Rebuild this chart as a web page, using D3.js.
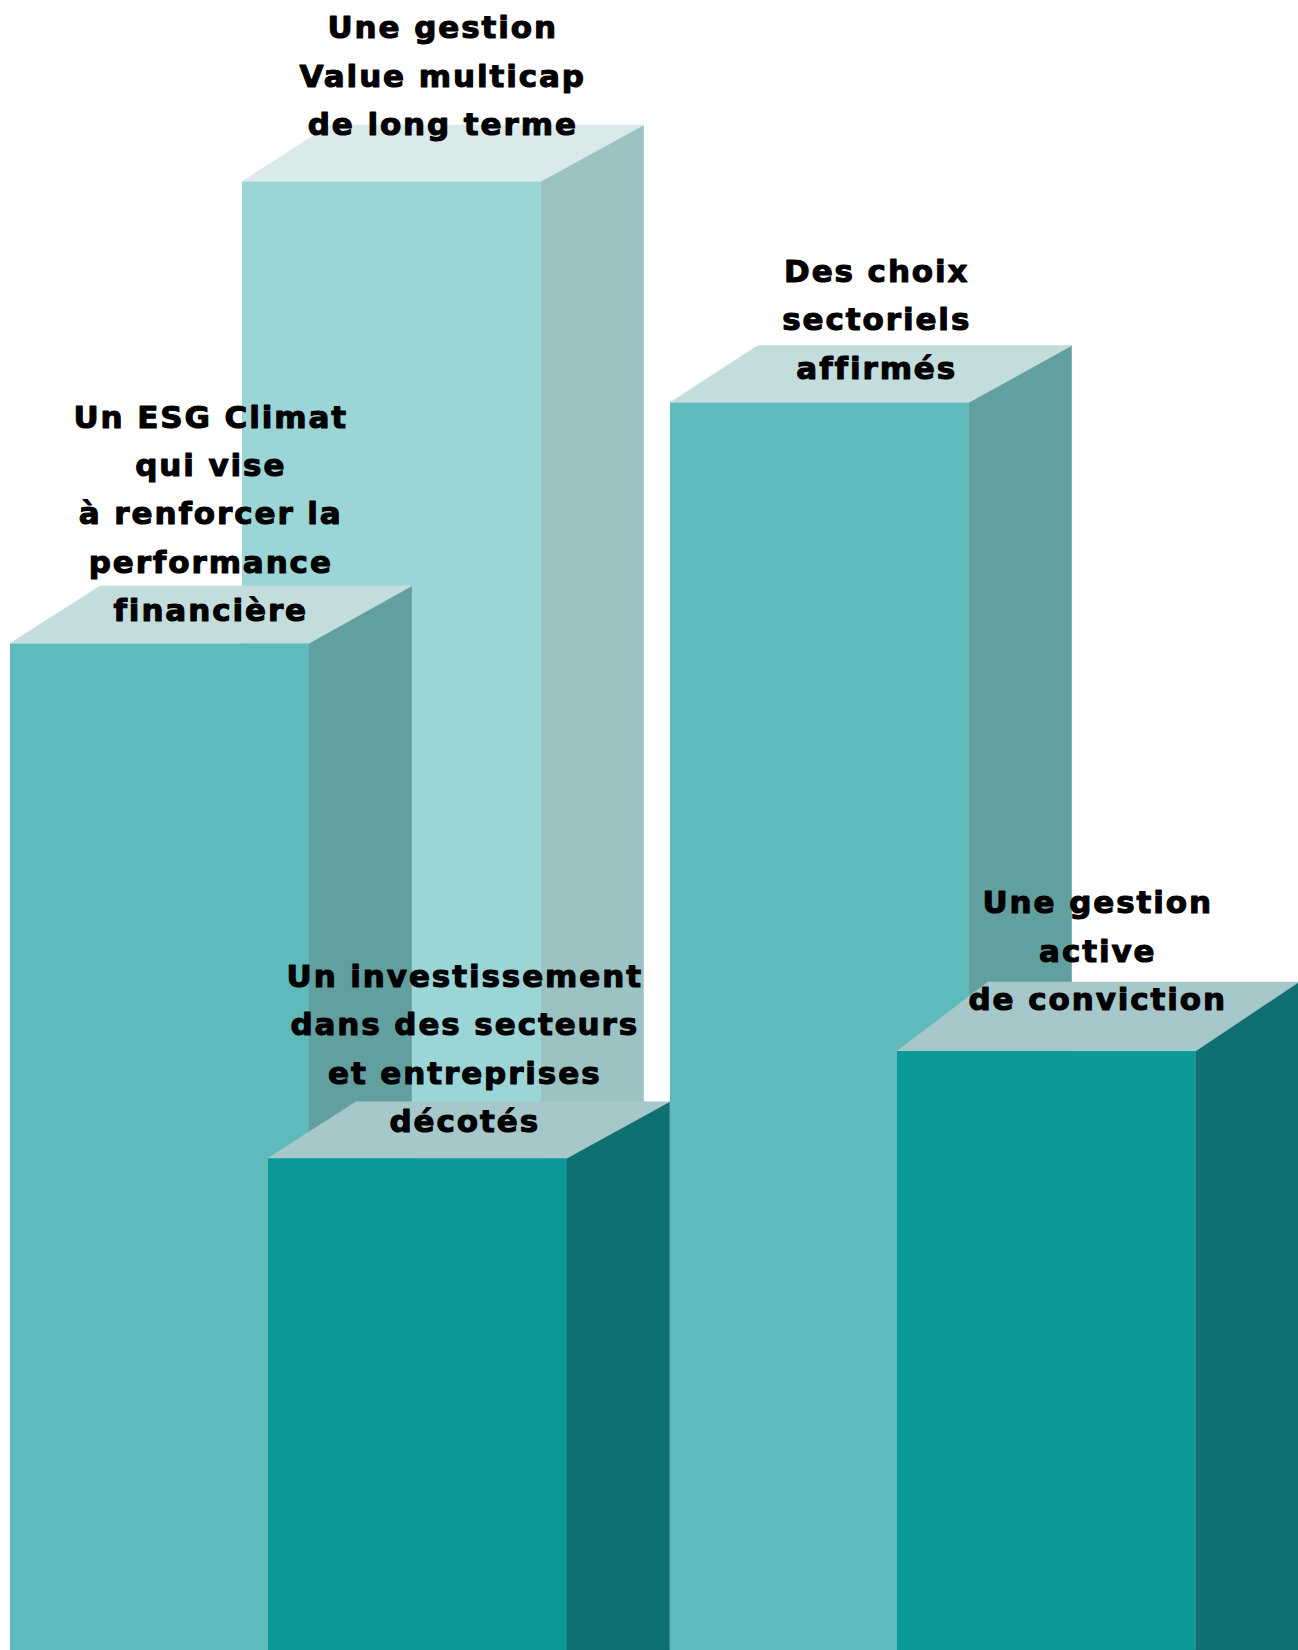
<!DOCTYPE html>
<html><head><meta charset="utf-8">
<script src="https://cdn.jsdelivr.net/npm/d3@7"></script>
<style>html,body{margin:0;padding:0;background:#fff;overflow:hidden}</style>
</head><body><svg id="c" width="1298" height="1650"></svg>
<script>
// ---- data ----
const categories = ["ESG Climat", "Value multicap", "Investissement décoté", "Choix sectoriels", "Gestion active"];
const values = [61.0, 89.0, 29.8, 75.6, 36.3];
const labels = [
  ["Un ESG Climat", "qui vise", "à renforcer la", "performance", "financière"],
  ["Une gestion", "Value multicap", "de long terme"],
  ["Un investissement", "dans des secteurs", "et entreprises", "décotés"],
  ["Des choix", "sectoriels", "affirmés"],
  ["Une gestion", "active", "de conviction"]
];
const tones = ["medium", "light", "dark", "medium", "dark"];

// ---- layout / style ----
const W = 1298, H = 1650;
const barLeft = [10, 242, 268, 670, 897];
const frontW = 298.5;
const depthXL = [90, 88, 88, 88, 91];
const depthXR = [103, 103, 103, 103, 103];
const depthY = [57.5, 56.5, 56.5, 57, 69];
const labelLift = [33.5, 57.5, 37.5, 35, 52];
const labelShift = [0, 0, -4, 6, 0];
const lineGap = 48.3;
const palette = {
  light:  {front: "#9CD5D6", side: "#9CC3C4", top: "#DAEAEA"},
  medium: {front: "#5EBABB", side: "#629F9F", top: "#C3DDDD"},
  dark:   {front: "#0C9999", side: "#0E7070", top: "#A6C8CA"}
};
const drawOrder = [1, 0, 2, 3, 4];

const y = d3.scaleLinear().domain([0, 100]).range([H, 0]);
const x = d3.scaleLinear().domain([0, W]).range([0, W]);

const svg = d3.select("#c");
const gBars = svg.append("g");
const gLabels = svg.append("g");

const bars = drawOrder.map(i => {
  const x0 = x(barLeft[i]), x1 = x(barLeft[i] + frontW);
  const yt = y(values[i]), yb = y(0);
  return {i, x0, x1, yt, yb, dl: depthXL[i], dr: depthXR[i], dy: depthY[i], c: palette[tones[i]]};
});

const poly = pts => "M" + pts.map(p => p.join(",")).join("L") + "Z";

const bg = gBars.selectAll("g.bar").data(bars).join("g").attr("class", "bar");
bg.append("path")
  .attr("d", d => poly([[d.x1, d.yt], [d.x1 + d.dr, d.yt - d.dy], [d.x1 + d.dr, d.yb], [d.x1, d.yb]]))
  .attr("fill", d => d.c.side).attr("stroke", d => d.c.side).attr("stroke-width", 0.6);
bg.append("path")
  .attr("d", d => poly([[d.x0, d.yt], [d.x0 + d.dl, d.yt - d.dy], [d.x1 + d.dr, d.yt - d.dy], [d.x1, d.yt]]))
  .attr("fill", d => d.c.top).attr("stroke", d => d.c.top).attr("stroke-width", 0.6);
bg.append("rect")
  .attr("x", d => d.x0).attr("y", d => d.yt)
  .attr("width", d => d.x1 - d.x0).attr("height", d => d.yb - d.yt)
  .attr("fill", d => d.c.front);

const lg = gLabels.selectAll("g.lab").data(bars).join("g").attr("class", "lab");
lg.each(function(d) {
  const lines = labels[d.i];
  const cx = (d.x0 + d.x1 + d.dr) / 2 + labelShift[d.i];
  const lastY = d.yt - labelLift[d.i];
  const n = lines.length;
  d3.select(this).selectAll("text").data(lines).join("text")
    .attr("x", cx)
    .attr("y", (t, k) => lastY - (n - 1 - k) * lineGap + 11)
    .attr("text-anchor", "middle")
    .attr("font-family", "'DejaVu Sans', sans-serif")
    .attr("font-weight", "bold")
    .attr("font-size", 31)
    .attr("letter-spacing", "1.9px")
    .attr("fill", "#000")
    .attr("stroke", "#000")
    .attr("stroke-width", 1.1)
    .attr("stroke-linejoin", "round")
    .text(t => t);
});
</script>
</body></html>
